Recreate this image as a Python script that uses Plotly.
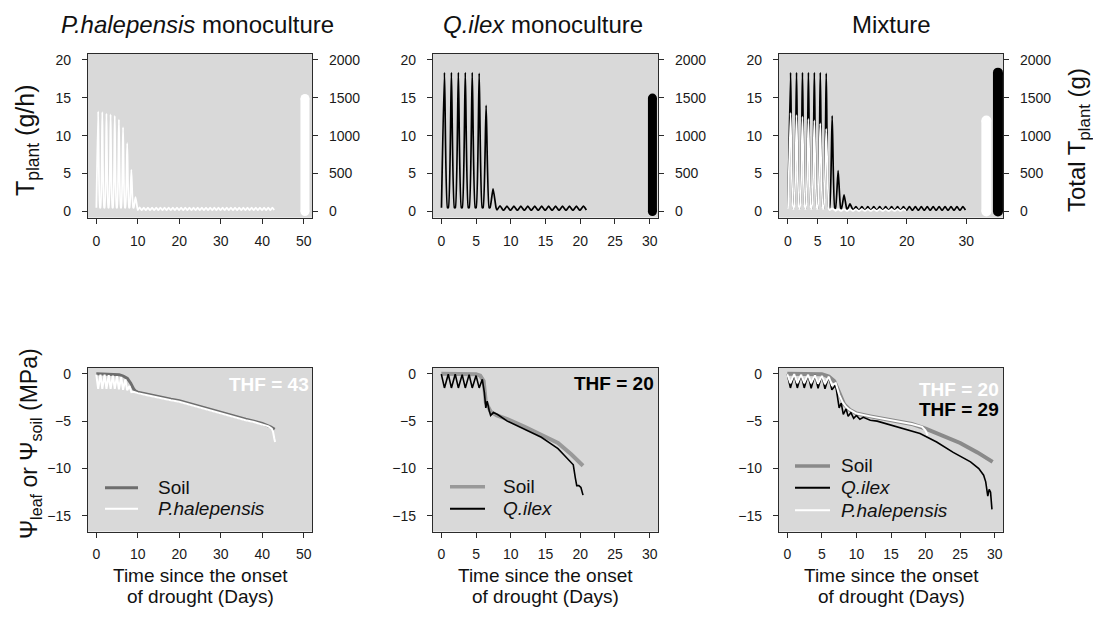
import plotly.graph_objects as go

W, H = 1093, 617
FONT = "Liberation Sans, Arial, sans-serif"

# ---------------- data ----------------
# Top row: plant transpiration T_plant (g/h), daily maximum and night minimum per day
ph_mono_peak = [13.2, 13.1, 12.9, 12.8, 12.6, 12.1, 11.1, 9.0, 5.5, 1.9,
                0.55, 0.5, 0.5, 0.5, 0.5, 0.5, 0.5, 0.5, 0.5, 0.5,
                0.5, 0.5, 0.5, 0.5, 0.5, 0.5, 0.5, 0.5, 0.5, 0.5,
                0.5, 0.5, 0.5, 0.5, 0.5, 0.5, 0.5, 0.5, 0.5, 0.5,
                0.5, 0.5, 0.5]
ph_mono_trough = [0.5, 0.5, 0.5, 0.5, 0.5, 0.5, 0.5, 0.5, 0.5, 0.5,
                  0.2, 0.2, 0.2, 0.2, 0.2, 0.2, 0.2, 0.2, 0.2, 0.2,
                  0.2, 0.2, 0.2, 0.2, 0.2, 0.2, 0.2, 0.2, 0.2, 0.2,
                  0.2, 0.2, 0.2, 0.2, 0.2, 0.2, 0.2, 0.2, 0.2, 0.2,
                  0.2, 0.2, 0.2]
qi_mono_peak = [18.3, 18.3, 18.3, 18.3, 18.3, 18.2, 14.0, 3.0,
                0.75, 0.7, 0.7, 0.7, 0.7, 0.7, 0.7, 0.7, 0.7, 0.7, 0.7, 0.7, 0.7]
qi_mono_trough = [0.5, 0.5, 0.5, 0.5, 0.5, 0.5, 0.5, 0.5,
                  0.2, 0.2, 0.2, 0.2, 0.2, 0.2, 0.2, 0.2, 0.2, 0.2, 0.2, 0.2, 0.2]
mix_qi_peak = [18.3, 18.3, 18.3, 18.3, 18.3, 18.3, 18.2, 12.6, 5.4, 2.2, 1.0,
               0.65, 0.65, 0.65, 0.65, 0.65, 0.65, 0.65, 0.65, 0.65, 0.65,
               0.65, 0.65, 0.65, 0.65, 0.65, 0.65, 0.65, 0.65, 0.65]
mix_qi_trough = [0.45, 0.45, 0.45, 0.45, 0.45, 0.45, 0.45, 0.45, 0.45, 0.4, 0.3,
                 0.2, 0.2, 0.2, 0.2, 0.2, 0.2, 0.2, 0.2, 0.2, 0.2,
                 0.2, 0.2, 0.2, 0.2, 0.2, 0.2, 0.2, 0.2, 0.2]
mix_ph_peak = [13.0, 12.7, 12.5, 12.2, 12.0, 11.6, 10.9, 0.4,
               0.3, 0.3, 0.3, 0.3, 0.3, 0.3, 0.3, 0.3, 0.3, 0.3, 0.3, 0.3]
mix_ph_trough = [0.4, 0.4, 0.4, 0.4, 0.4, 0.4, 0.4, 0.2,
                 0.1, 0.1, 0.1, 0.1, 0.1, 0.1, 0.1, 0.1, 0.1, 0.1, 0.1, 0.1]

# Total plant transpiration over the drought (g)
total_ph_mono = 1490
total_qi_mono = 1495
total_mix_ph = 1200
total_mix_qi = 1830

# Bottom row: soil and leaf water potential (MPa) against time (days)
soil_ph_t = [0, 4, 5.5, 6.5, 7.5, 8.3, 9, 9.5, 10, 12, 15, 18, 20, 22, 25, 28, 30, 33, 36, 38, 40, 42, 43]
soil_ph_v = [0, -0.02, -0.1, -0.25, -0.5, -1.0, -1.6, -1.85, -1.95, -2.15, -2.45, -2.7, -2.85, -3.1,
             -3.5, -3.85, -4.1, -4.45, -4.8, -5.0, -5.25, -5.6, -5.85]
leaf_ph_t = [0, 0.45, 1, 1.45, 2, 2.45, 3, 3.45, 4, 4.45, 5, 5.45, 6, 6.45, 7, 7.45, 8, 8.45, 9, 10,
             12, 15, 18, 20, 22, 25, 28, 30, 33, 36, 38, 40, 41.5, 42.3, 42.6, 42.9, 43.1]
leaf_ph_v = [-0.1, -1.6, -0.1, -1.6, -0.1, -1.6, -0.15, -1.6, -0.2, -1.6, -0.25, -1.65, -0.35, -1.7,
             -0.6, -1.75, -1.3, -1.95, -1.9, -2.05, -2.25, -2.55, -2.8, -2.95, -3.2, -3.6, -3.95, -4.2,
             -4.55, -4.9, -5.1, -5.35, -5.55, -5.8, -6.1, -6.8, -7.2]

soil_qi_t = [0, 5, 5.6, 6.1, 6.4, 7.1, 8, 9.5, 12, 14.4, 16.8, 18.7, 20.4]
soil_qi_v = [0, -0.05, -0.2, -0.8, -3.0, -4.0, -4.4, -4.8, -5.6, -6.4, -7.3, -8.5, -9.7]
leaf_qi_t = [0, 0.45, 1, 1.45, 2, 2.45, 3, 3.45, 4, 4.45, 5, 5.45, 5.9, 6.2, 6.4, 6.6, 6.9, 7.1,
             7.5, 8.1, 9.5, 12, 14.4, 15.8, 16.8, 17.7, 18.5, 19.0, 19.3, 19.5, 19.8, 20.1, 20.4]
leaf_qi_v = [-0.05, -1.5, -0.05, -1.5, -0.05, -1.5, -0.1, -1.5, -0.1, -1.5, -0.2, -1.5, -0.6, -2.0,
             -3.6, -2.9, -3.9, -4.4, -4.1, -4.3, -5.0, -5.9, -6.7, -7.4, -7.9, -8.6, -9.2, -9.6,
             -11.0, -11.8, -11.8, -12.0, -12.8]

soil_mix_t = [0, 5, 6, 6.8, 7.5, 8.2, 9, 10, 12, 15, 18, 20, 22.5, 25, 27.5, 29.7]
soil_mix_v = [0, -0.05, -0.3, -0.8, -2.0, -3.2, -3.8, -4.2, -4.5, -4.85, -5.3, -5.8, -6.5, -7.3, -8.3, -9.3]
leaf_mix_qi_t = [0, 0.45, 1, 1.45, 2, 2.45, 3, 3.45, 4, 4.45, 5, 5.45, 6, 6.45, 7.0, 7.3, 7.5, 7.8,
                 8.1, 8.5, 8.8, 9.2, 9.6, 10.0, 10.5, 11, 12, 13, 14.4, 16.8, 19.2, 21.6, 24.0, 26.5,
                 27.7, 28.4, 28.7, 29.0, 29.2, 29.4, 29.6]
leaf_mix_qi_v = [-0.05, -1.5, -0.05, -1.5, -0.1, -1.5, -0.1, -1.55, -0.1, -1.55, -0.15, -1.6, -0.3,
                 -1.7, -1.2, -2.4, -3.6, -3.1, -4.3, -3.7, -4.5, -4.1, -4.7, -4.4, -4.8, -4.6, -4.9,
                 -5.0, -5.3, -5.8, -6.3, -7.2, -8.3, -9.3, -10.0, -10.7, -11.4, -12.9, -12.2,
                 -12.5, -14.3]
leaf_mix_ph_t = [0, 0.45, 1, 1.45, 2, 2.45, 3, 3.45, 4, 4.45, 5, 5.45, 6, 6.45, 7.0, 7.5, 8.0, 8.5,
                 9, 10, 12, 14, 16, 18, 19.5, 20.0, 20.3]
leaf_mix_ph_v = [-0.05, -1.0, -0.05, -1.0, -0.1, -1.0, -0.1, -1.0, -0.15, -1.05, -0.2, -1.1, -0.3,
                 -1.2, -1.0, -2.2, -3.0, -3.5, -3.8, -4.2, -4.5, -4.75, -5.0, -5.3, -5.6, -6.0, -6.5]

# Time to hydraulic failure (days)
thf_ph_mono = 43
thf_qi_mono = 20
thf_mix_ph = 20
thf_mix_qi = 29

# ---------------- figure ----------------
fig = go.Figure()


def wave(peaks, troughs):
    xs, ys = [], []
    for d, (p, tr) in enumerate(zip(peaks, troughs)):
        xs += [d + 0.02, d + 0.45, d + 0.88]
        ys += [tr, p, tr]
    return xs, ys


def add_wave(peaks, troughs, color, xa, ya, width=1.5):
    xs, ys = wave(peaks, troughs)
    fig.add_trace(go.Scatter(x=xs, y=ys, mode="lines",
                             line=dict(color=color, width=width, shape="spline", smoothing=0.5),
                             xaxis=xa, yaxis=ya, showlegend=False, hoverinfo="skip"))


def add_total(xpos, total, color, xa, ya, width):
    fig.add_trace(go.Scatter(x=[xpos, xpos], y=[0, total], mode="lines+markers",
                             line=dict(color=color, width=width),
                             marker=dict(size=width, color=color, line=dict(width=0)),
                             xaxis=xa, yaxis=ya, showlegend=False, hoverinfo="skip"))


# top-left
add_wave(ph_mono_peak, ph_mono_trough, "#ffffff", "x", "y", 1.8)
add_total(50.3, total_ph_mono, "#ffffff", "x", "y7", 9)
# top-middle
add_wave(qi_mono_peak, qi_mono_trough, "#000000", "x2", "y2", 1.7)
add_total(30.4, total_qi_mono, "#000000", "x2", "y8", 9)
# top-right
add_wave(mix_qi_peak, mix_qi_trough, "#000000", "x3", "y3", 1.7)
add_wave(mix_ph_peak, mix_ph_trough, "#ffffff", "x3", "y3", 1.8)
add_total(33.4, total_mix_ph, "#ffffff", "x3", "y9", 10)
add_total(35.35, total_mix_qi, "#000000", "x3", "y9", 10)


def add_line(t, v, color, width, name, xa, ya):
    fig.add_trace(go.Scatter(x=t, y=v, mode="lines", name=name,
                             line=dict(color=color, width=width),
                             xaxis=xa, yaxis=ya, showlegend=False, hoverinfo="skip"))


SOIL1, SOIL2, SOIL3 = "#6e6e6e", "#999999", "#8a8a8a"
add_line(soil_ph_t, soil_ph_v, SOIL1, 3, "Soil", "x4", "y4")
add_line(leaf_ph_t, leaf_ph_v, "#ffffff", 2, "P.halepensis", "x4", "y4")
add_line(soil_qi_t, soil_qi_v, SOIL2, 4, "Soil", "x5", "y5")
add_line(leaf_qi_t, leaf_qi_v, "#000000", 1.6, "Q.ilex", "x5", "y5")
add_line(soil_mix_t, soil_mix_v, SOIL3, 4, "Soil", "x6", "y6")
add_line(leaf_mix_qi_t, leaf_mix_qi_v, "#000000", 1.6, "Q.ilex", "x6", "y6")
add_line(leaf_mix_ph_t, leaf_mix_ph_v, "#ffffff", 2, "P.halepensis", "x6", "y6")

# ---------------- layout ----------------
common = dict(showline=True, linecolor="#2b2b2b", linewidth=1.3, ticks="outside", ticklen=5,
              tickwidth=1, tickcolor="#2b2b2b",
              tickfont=dict(family=FONT, size=14, color="#1a1a1a"),
              showgrid=False, zeroline=False)
xcommon = dict(common, ticklabelstandoff=5)
ycommon = dict(common, ticklabelstandoff=8)

cols = [(88, 312), (433, 658), (779, 1003)]
top = (52, 217)
bot = (368, 533)


def xd(c):
    return [c[0] / W, c[1] / W]


def yd(r):
    return [1 - r[1] / H, 1 - r[0] / H]


layout_axes = {}
x_ranges_top = [[-2, 52], [-1.2, 31.2], [-1.5, 36.2]]
x_ticks_top = [[0, 10, 20, 30, 40, 50], [0, 5, 10, 15, 20, 25, 30], [0, 5, 10, 20, 30]]
x_ranges_bot = [[-2, 52], [-1.2, 31.2], [-1.2, 31.2]]
x_ticks_bot = [[0, 10, 20, 30, 40, 50], [0, 5, 10, 15, 20, 25, 30], [0, 5, 10, 15, 20, 25, 30]]

for i in range(3):
    n = i + 1
    sx = "" if n == 1 else str(n)
    layout_axes["xaxis" + sx] = dict(domain=xd(cols[i]), range=x_ranges_top[i], tickvals=x_ticks_top[i],
                                     anchor="y" + sx, mirror=True, **xcommon)
    layout_axes["yaxis" + sx] = dict(domain=yd(top), range=[-0.8, 20.8], tickvals=[0, 5, 10, 15, 20],
                                     anchor="x" + sx, **ycommon)
    layout_axes["yaxis" + str(n + 6)] = dict(overlaying="y" + sx, side="right", anchor="x" + sx,
                                             range=[-80, 2080], tickvals=[0, 500, 1000, 1500, 2000],
                                             **ycommon)
    m = n + 3
    layout_axes["xaxis" + str(m)] = dict(domain=xd(cols[i]), range=x_ranges_bot[i], tickvals=x_ticks_bot[i],
                                         anchor="y" + str(m), mirror=True, **xcommon)
    layout_axes["yaxis" + str(m)] = dict(domain=yd(bot), range=[-16.64, 0.64], tickvals=[0, -5, -10, -15],
                                         anchor="x" + str(m), mirror=True, **ycommon)

annotations = []
shapes = []


def ann(text, x, y, size, color="#111111", angle=0, xanchor="center", yanchor="middle"):
    annotations.append(dict(text=text, x=x / W, y=1 - y / H, xref="paper", yref="paper",
                            showarrow=False, textangle=angle, xanchor=xanchor, yanchor=yanchor,
                            font=dict(family=FONT, size=size, color=color)))


ann("<i>P.halepensis</i> monoculture", 197, 23, 24)
ann("<i>Q.ilex</i> monoculture", 542.5, 23, 24)
ann("Mixture", 891, 23, 24)
ann("T<sub>plant</sub> (g/h)", 27, 139, 25, angle=-90)
ann("Total T<sub>plant</sub> (g)", 1078, 139, 24, angle=-90)
ann("Ψ<sub>leaf</sub> or Ψ<sub>soil</sub> (MPa)", 30, 445, 23, angle=-90)
for cx in (200, 545.5, 891):
    ann("Time since the onset", cx, 577, 19)
    ann("of drought (Days)", cx, 598, 19)
ann("<b>THF = %d</b>" % thf_ph_mono, 311, 385, 19, color="#ffffff", xanchor="right")
ann("<b>THF = %d</b>" % thf_qi_mono, 656, 384, 19, color="#000000", xanchor="right")
ann("<b>THF = %d</b>" % thf_mix_ph, 1001, 390, 19, color="#ffffff", xanchor="right")
ann("<b>THF = %d</b>" % thf_mix_qi, 1001, 410, 19, color="#000000", xanchor="right")


# legends drawn inside each bottom panel: sample line + label
def legend_item(x0, x1, xt, y, color, width, label):
    shapes.append(dict(type="line", xref="paper", yref="paper", x0=x0 / W, x1=x1 / W,
                       y0=1 - y / H, y1=1 - y / H, line=dict(color=color, width=width)))
    ann(label, xt, y, 19, xanchor="left")


legend_item(105, 138, 156, 489, SOIL1, 3, "Soil")
legend_item(105, 138, 156, 510, "#ffffff", 2, "<i>P.halepensis</i>")
legend_item(450, 485, 501, 488, SOIL2, 3.5, "Soil")
legend_item(450, 485, 501, 510, "#000000", 2, "<i>Q.ilex</i>")
legend_item(795, 830, 839, 467, SOIL3, 3.5, "Soil")
legend_item(795, 830, 839, 489, "#000000", 2, "<i>Q.ilex</i>")
legend_item(795, 830, 839, 511.5, "#ffffff", 2, "<i>P.halepensis</i>")

fig.update_layout(
    width=W, height=H, margin=dict(l=0, r=0, t=0, b=0),
    paper_bgcolor="#ffffff", plot_bgcolor="#d9d9d9",
    showlegend=False, hovermode=False,
    annotations=annotations, shapes=shapes,
    **layout_axes,
)

fig.write_html("out.html")
